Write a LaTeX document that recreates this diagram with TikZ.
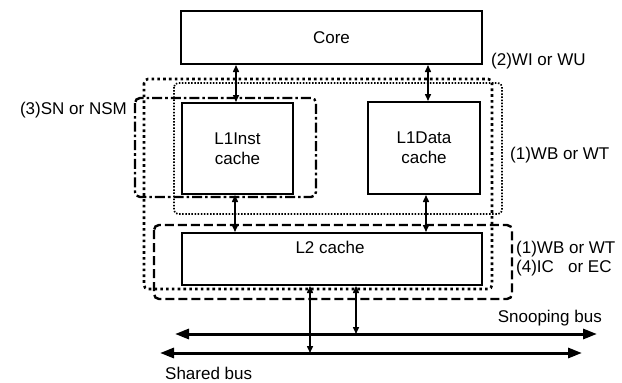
\documentclass[tikz,border=0pt]{standalone}
\usepackage{fontspec}
\setmainfont{Liberation Sans}
\usetikzlibrary{arrows.meta}
\tikzset{
  unit/.style={draw, line width=2pt, fill=white, inner sep=0pt, align=center,
    font=\fontsize{17}{20}\selectfont},
  lbl/.style={inner sep=0pt, font=\fontsize{17}{20}\selectfont},
  link/.style={line width=1.5pt, {Triangle[length=7pt,width=6pt]}-{Triangle[length=7pt,width=6pt]}},
  bus/.style={line width=3pt, {Triangle[length=14pt,width=10pt]}-{Triangle[length=14pt,width=10pt]}},
  coarsedot/.style={line width=2.6pt, dash pattern=on 2.6pt off 3.2pt, rounded corners=4pt},
  finedot/.style={line width=1.7pt, dash pattern=on 1.5pt off 1.6pt, rounded corners=4pt},
  longdash/.style={line width=2.4pt, dash pattern=on 9pt off 4pt, rounded corners=5pt},
  dashdotline/.style={line width=2.4pt, dash pattern=on 10pt off 3pt on 2.6pt off 3pt, rounded corners=5pt},
}
\begin{document}
\begin{tikzpicture}[x=1pt,y=-1pt]
\useasboundingbox (0,0) rectangle (622,383);

% coherence regions
\draw[coarsedot] (144,79) rectangle (492,289);
\draw[finedot] (174,83) rectangle (502,214);
\draw[dashdotline] (135,98) rectangle (316,197);
\draw[longdash] (154,225) rectangle (512,299);

% units
\node[unit, minimum width=301pt, minimum height=53pt] (core) at (331.5,37.5) {Core};
\node[unit, minimum width=111pt, minimum height=91pt] (inst) at (237.5,148.5) {L1Inst\\cache};
\node[unit, minimum width=112pt, minimum height=92pt] (data) at (424,148) {L1Data\\cache};
\node[unit, minimum width=300pt, minimum height=52pt] (l2) at (332,259) {};
\node[lbl] (l2t) at (330,247) {L2 cache};

% links between levels
\draw[link] ([xshift=-1.5pt]core.south -| inst.north) -- ([xshift=-1.5pt]inst.north);
\draw[link] ([xshift=4pt]core.south -| data.north) -- ([xshift=4pt]data.north);
\draw[link] ([xshift=-2.5pt]inst.south) -- ([xshift=-2.5pt]inst.south |- l2.north);
\draw[link] ([xshift=2pt]data.south) -- ([xshift=2pt]data.south |- l2.north);

% buses
\coordinate (snA) at (175,334);
\coordinate (snB) at (597,334);
\coordinate (shA) at (160,353);
\coordinate (shB) at (582,353);
\draw[bus] (snA) -- (snB);
\draw[bus] (shA) -- (shB);
\coordinate (tapSh) at (310,353);
\coordinate (tapSn) at (356,334);
\draw[link] (tapSh |- l2.south) -- (tapSh);
\draw[link] (tapSn |- l2.south) -- (tapSn);

% labels
\node[lbl, anchor=west] (wi) at (491,61) {(2)WI or WU};
\node[lbl, anchor=east] (sn) at (127,110) {(3)SN or NSM};
\node[lbl, anchor=west] (wb1) at (510,155) {(1)WB or WT};
\node[lbl, anchor=west] (wb2) at (516,249) {(1)WB or WT};
\node[lbl, anchor=west] (ic) at (516,268) {(4)IC\ \ \ or EC};
\node[lbl, anchor=east] (snp) at (602,318) {Snooping bus};
\node[lbl, anchor=west] (shr) at (165,373) {Shared bus};
\end{tikzpicture}
\end{document}
